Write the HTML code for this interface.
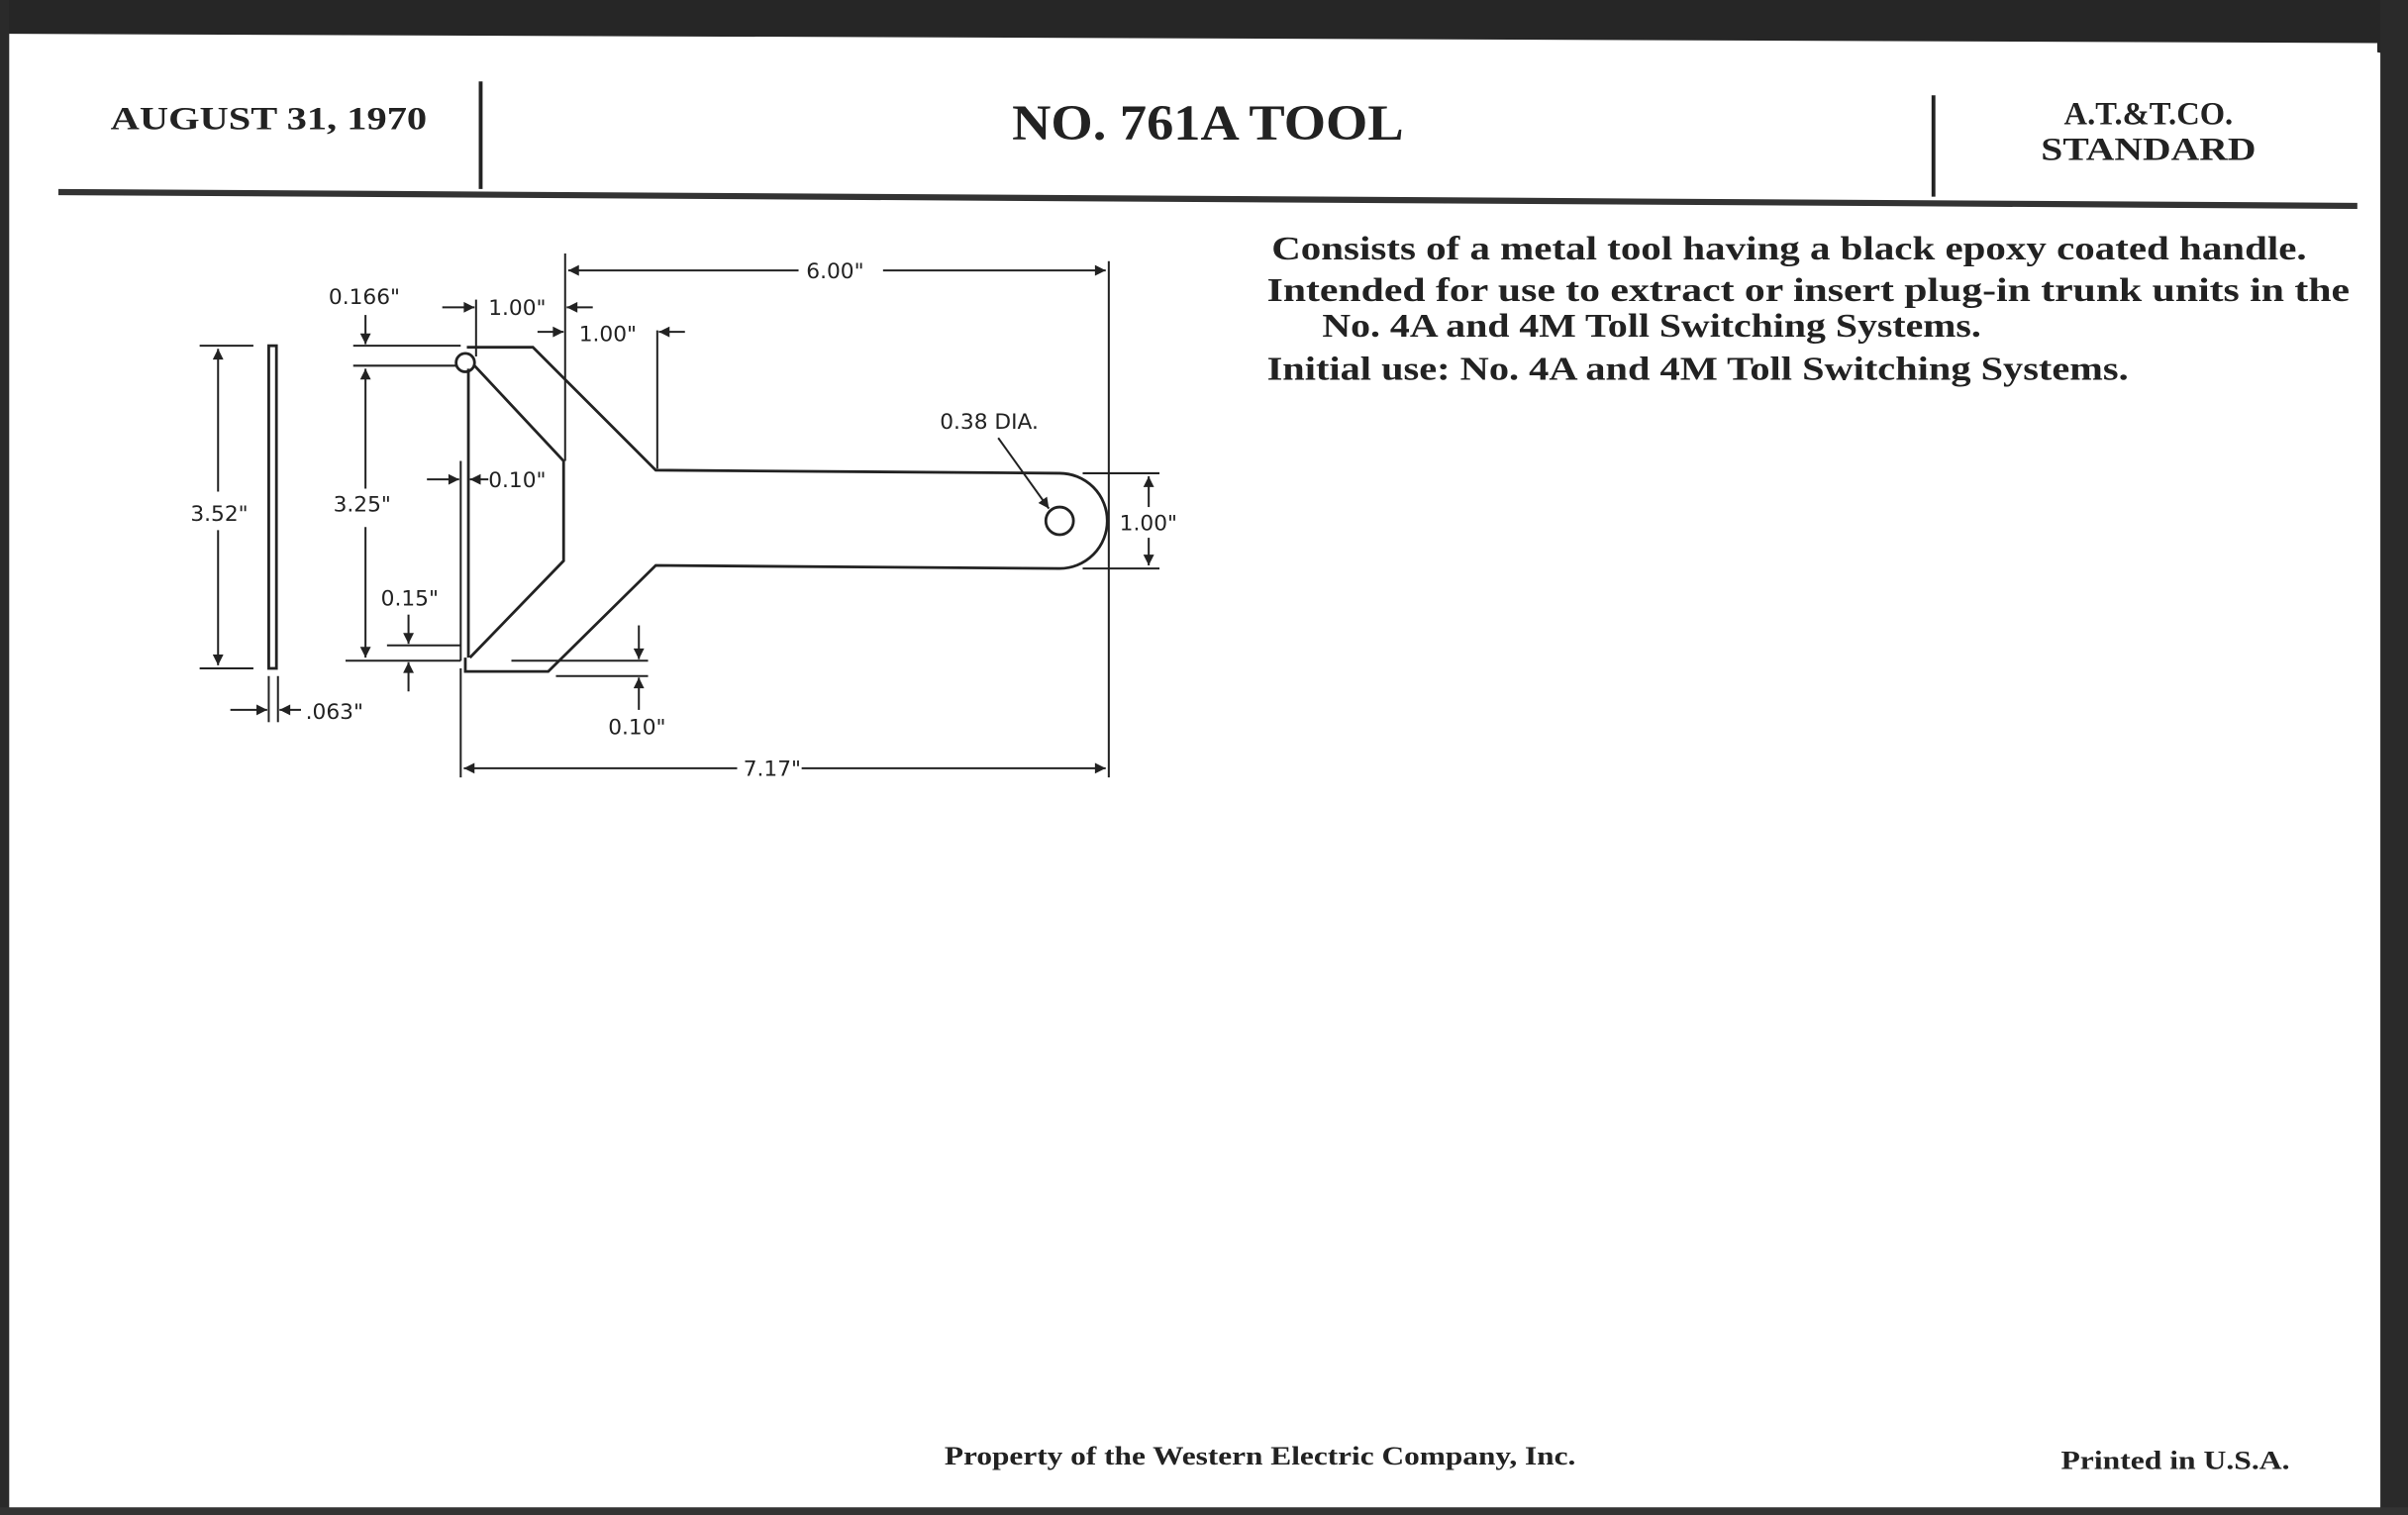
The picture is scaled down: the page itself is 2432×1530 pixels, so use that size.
<!DOCTYPE html>
<html><head><meta charset="utf-8"><style>
html,body{margin:0;padding:0;background:#fff;}
svg{display:block;}
</style></head><body>
<svg width="2432" height="1530" viewBox="0 0 1568 986" preserveAspectRatio="none" xmlns="http://www.w3.org/2000/svg">
<defs>
<marker id="a" viewBox="0 0 10 10" refX="10" refY="5" markerWidth="9" markerHeight="7" orient="auto-start-reverse" markerUnits="userSpaceOnUse"><path d="M0,0 L10,5 L0,10 z" fill="#222"/></marker>
</defs>
<rect width="1568" height="986" fill="#fff"/>
<polygon points="0,0 1568,0 1568,38 1548,34 1548,28 8,22 0,22" fill="#262626"/>
<rect x="0" y="0" width="6" height="986" fill="#2a2a2a"/>
<rect x="1550" y="0" width="18" height="986" fill="#2a2a2a"/>
<rect x="0" y="981" width="1568" height="5" fill="#333"/>

<g font-family="'Liberation Serif',serif" font-weight="bold" fill="#222">
<text x="72" y="84" font-size="21" textLength="206" lengthAdjust="spacingAndGlyphs">AUGUST 31, 1970</text>
<text x="659" y="91" font-size="33" textLength="255" lengthAdjust="spacingAndGlyphs">NO. 761A TOOL</text>
<text x="1399" y="81" font-size="21" text-anchor="middle">A.T.&amp;T.CO.</text>
<text x="1329" y="104" font-size="21" textLength="140" lengthAdjust="spacingAndGlyphs">STANDARD</text>
</g>
<line x1="313" y1="53" x2="313" y2="123" stroke="#222" stroke-width="2.5"/>
<line x1="1259" y1="62" x2="1259" y2="128" stroke="#222" stroke-width="2.5"/>
<polygon points="38,123 1535,132 1535,136 38,127" fill="#333"/>

<g font-family="'Liberation Serif',serif" fill="#222" font-size="22" font-weight="bold">
<text x="828" y="169" textLength="674" lengthAdjust="spacingAndGlyphs">Consists of a metal tool having a black epoxy coated handle.</text>
<text x="825" y="196" textLength="705" lengthAdjust="spacingAndGlyphs">Intended for use to extract or insert plug-in trunk units in the</text>
<text x="861" y="219" textLength="429" lengthAdjust="spacingAndGlyphs">No. 4A and 4M Toll Switching Systems.</text>
<text x="825" y="247" textLength="561" lengthAdjust="spacingAndGlyphs">Initial use: No. 4A and 4M Toll Switching Systems.</text>
<text x="615" y="953" font-size="17" textLength="411" lengthAdjust="spacingAndGlyphs">Property of the Western Electric Company, Inc.</text>
<text x="1342" y="956" font-size="17" textLength="149" lengthAdjust="spacingAndGlyphs">Printed in U.S.A.</text>
</g>

<g fill="none" stroke="#222" stroke-width="1.8">
<rect x="175" y="225" width="5" height="210"/>
<path d="M304,226 L347,226 L427,306 L690,308 A31,31 0 0 1 690,370 L427,368 L357,437 L303,437 L303,428"/>
<line x1="305" y1="240" x2="305" y2="428"/>
<path d="M309,238 L367,300 L367,365 L306,428"/>
<circle cx="303" cy="236" r="6"/>
<circle cx="690" cy="339" r="9"/>
</g>
<g stroke="#222" stroke-width="1.3" fill="none">
<line x1="130" y1="225" x2="165" y2="225"/><line x1="130" y1="435" x2="165" y2="435"/>
<line x1="142" y1="320" x2="142" y2="227" marker-end="url(#a)"/>
<line x1="142" y1="345" x2="142" y2="433" marker-end="url(#a)"/>
<line x1="175" y1="440" x2="175" y2="470"/><line x1="181" y1="440" x2="181" y2="470"/>
<line x1="150" y1="462" x2="174" y2="462" marker-end="url(#a)"/>
<line x1="196" y1="462" x2="182" y2="462" marker-end="url(#a)"/>
<line x1="230" y1="225" x2="300" y2="225"/><line x1="230" y1="238" x2="297" y2="238"/>
<line x1="225" y1="430" x2="300" y2="430"/>
<line x1="238" y1="205" x2="238" y2="224" marker-end="url(#a)"/>
<line x1="238" y1="318" x2="238" y2="240" marker-end="url(#a)"/>
<line x1="238" y1="343" x2="238" y2="428" marker-end="url(#a)"/>
<line x1="310" y1="195" x2="310" y2="232"/>
<line x1="288" y1="200" x2="309" y2="200" marker-end="url(#a)"/>
<line x1="386" y1="200" x2="369" y2="200" marker-end="url(#a)"/>
<line x1="368" y1="165" x2="368" y2="300"/>
<line x1="722" y1="170" x2="722" y2="506"/>
<line x1="520" y1="176" x2="370" y2="176" marker-end="url(#a)"/>
<line x1="575" y1="176" x2="720" y2="176" marker-end="url(#a)"/>
<line x1="428" y1="215" x2="428" y2="305"/>
<line x1="350" y1="216" x2="367" y2="216" marker-end="url(#a)"/>
<line x1="446" y1="216" x2="429" y2="216" marker-end="url(#a)"/>
<line x1="300" y1="300" x2="300" y2="430"/>
<line x1="278" y1="312" x2="299" y2="312" marker-end="url(#a)"/>
<line x1="318" y1="312" x2="306" y2="312" marker-end="url(#a)"/>
<line x1="252" y1="420" x2="300" y2="420"/>
<line x1="266" y1="400" x2="266" y2="419" marker-end="url(#a)"/>
<line x1="266" y1="450" x2="266" y2="431" marker-end="url(#a)"/>
<line x1="333" y1="430" x2="422" y2="430"/><line x1="362" y1="440" x2="422" y2="440"/>
<line x1="416" y1="407" x2="416" y2="429" marker-end="url(#a)"/>
<line x1="416" y1="462" x2="416" y2="441" marker-end="url(#a)"/>
<line x1="650" y1="285" x2="683" y2="331" marker-end="url(#a)"/>
<line x1="705" y1="308" x2="755" y2="308"/><line x1="705" y1="370" x2="755" y2="370"/>
<line x1="748" y1="330" x2="748" y2="310" marker-end="url(#a)"/>
<line x1="748" y1="350" x2="748" y2="368" marker-end="url(#a)"/>
<line x1="300" y1="435" x2="300" y2="506"/>
<line x1="480" y1="500" x2="302" y2="500" marker-end="url(#a)"/>
<line x1="522" y1="500" x2="720" y2="500" marker-end="url(#a)"/>
</g>
<g font-family="'DejaVu Sans','Liberation Sans',sans-serif" font-size="14" fill="#222">
<text x="124" y="339">3.52"</text>
<text x="199" y="468">.063"</text>
<text x="214" y="198">0.166"</text>
<text x="217" y="333">3.25"</text>
<text x="318" y="205">1.00"</text>
<text x="377" y="222">1.00"</text>
<text x="525" y="181">6.00"</text>
<text x="318" y="317">0.10"</text>
<text x="248" y="394">0.15"</text>
<text x="396" y="478">0.10"</text>
<text x="612" y="279">0.38 DIA.</text>
<text x="729" y="345">1.00"</text>
<text x="484" y="505">7.17"</text>
</g>
</svg>
</body></html>
